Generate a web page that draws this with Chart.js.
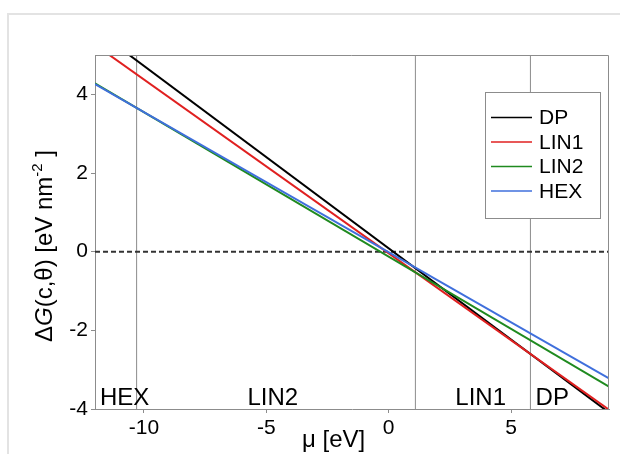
<!DOCTYPE html>
<html><head><meta charset="utf-8">
<script src="https://cdn.jsdelivr.net/npm/chart.js@4"></script>
<style>
html,body{margin:0;padding:0;background:#fff;}
#wrap{position:relative;width:620px;height:454px;overflow:hidden;}
#frame{position:absolute;left:7px;top:13px;width:640px;height:460px;border-left:2px solid #e3e3e3;border-top:2px solid #e3e3e3;}
canvas{position:absolute;left:0;top:0;}
</style></head><body>
<div id="wrap"><div id="frame"></div><canvas id="c" width="620" height="454"></canvas></div>
<script>
// chemical potential endpoints (eV)
const mu = [-12, 9];
// ΔG values at the endpoints (eV nm^-2)
const DP   = [5.65, -4.09];
const LIN1 = [5.26, -4.02];
const LIN2 = [4.28, -3.43];
const HEX  = [4.26, -3.22];
const seriesNames = ['DP', 'LIN1', 'LIN2', 'HEX'];
const seriesColors = ['#000000', '#e02020', '#1f8a1f', '#3f6fdc'];
// phase boundaries (vertical lines)
const transitions = [-10.3, 1.09, 5.79];
const yRange = [-4, 5];
const xRange = [-12, 9];
const xTicks = [-10, -5, 0, 5];
const yTicks = [-4, -2, 0, 2, 4];
// region labels and their left positions in μ
const regionLabels = ['HEX', 'LIN2', 'LIN1', 'DP'];
const regionX = [-11.8, -5.77, 2.72, 6.0];
const regionY = -3.9;

const FONT = "'Liberation Sans', Arial, sans-serif";
const seriesVals = [DP, LIN1, LIN2, HEX];

const datasets = [];
seriesVals.forEach((vals, i) => {
  datasets.push({
    label: seriesNames[i],
    data: mu.map((m, j) => ({x: m, y: vals[j]})),
    borderColor: seriesColors[i], backgroundColor: seriesColors[i],
    borderWidth: 2, pointRadius: 0, showLine: true, clip: 0,
    order: 4 - i
  });
});
datasets.push({
  label: 'zero',
  data: xRange.map(x => ({x: x, y: 0})),
  borderColor: '#333', borderWidth: 2, borderDash: [5, 3],
  pointRadius: 0, showLine: true, clip: 0, order: 9
});
transitions.forEach((t, i) => {
  datasets.push({
    label: 'tr' + i,
    data: yRange.map(y => ({x: t, y: y})),
    borderColor: '#8c8c8c', borderWidth: 1,
    pointRadius: 0, showLine: true, clip: 0, order: 10
  });
});

const decor = {
  id: 'decor',
  afterDatasetsDraw(chart) {
    const ctx = chart.ctx, a = chart.chartArea;
    const xs = chart.scales.x, ys = chart.scales.y;
    ctx.save();
    // frame top/right
    ctx.strokeStyle = '#8c8c8c'; ctx.lineWidth = 1;
    ctx.beginPath();
    ctx.moveTo(a.left, a.top + 0.5); ctx.lineTo(a.right - 0.5, a.top + 0.5); ctx.lineTo(a.right - 0.5, a.bottom);
    ctx.stroke();
    // region labels
    ctx.fillStyle = '#000'; ctx.font = '24px ' + FONT;
    ctx.textAlign = 'left'; ctx.textBaseline = 'alphabetic';
    regionLabels.forEach((t, i) => {
      ctx.fillText(t, xs.getPixelForValue(regionX[i]), ys.getPixelForValue(regionY));
    });
    // legend
    const bx = a.right - 124, by = a.top + 37, bw = 115, bh = 126;
    ctx.fillStyle = '#fff'; ctx.fillRect(bx, by, bw, bh);
    ctx.strokeStyle = '#8c8c8c'; ctx.lineWidth = 1;
    ctx.strokeRect(bx + 0.5, by + 0.5, bw, bh);
    ctx.font = '21px ' + FONT; ctx.textBaseline = 'middle';
    seriesNames.forEach((n, i) => {
      const yy = by + 25.5 + i * 24.5;
      ctx.strokeStyle = seriesColors[i]; ctx.lineWidth = 1.5;
      ctx.beginPath(); ctx.moveTo(bx + 6, yy); ctx.lineTo(bx + 47, yy); ctx.stroke();
      ctx.fillStyle = '#000'; ctx.fillText(n, bx + 54, yy + 1);
    });
    ctx.restore();
  },
  afterDraw(chart) {
    const ctx = chart.ctx;
    ctx.save();
    ctx.fillStyle = '#000';
    // x title
    ctx.font = '24px ' + FONT; ctx.textAlign = 'left'; ctx.textBaseline = 'alphabetic';
    ctx.fillText('μ [eV]', 302, 447);
    // y title
    const segs = [
      {t: 'Δ', f: '24px ' + FONT, dy: 0},
      {t: 'G', f: 'italic 24px ' + FONT, dy: 0},
      {t: '(c,θ) [eV nm', f: '24px ' + FONT, dy: 0},
      {t: '-2', f: '15px ' + FONT, dy: -10},
      {t: ' ]', f: '24px ' + FONT, dy: 0}
    ];
    let total = 0;
    segs.forEach(s => { ctx.font = s.f; s.w = ctx.measureText(s.t).width; total += s.w; });
    ctx.translate(52, 246); ctx.rotate(-Math.PI / 2);
    let x = -total / 2;
    ctx.textBaseline = 'alphabetic';
    segs.forEach(s => { ctx.font = s.f; ctx.fillText(s.t, x, s.dy); x += s.w; });
    ctx.restore();
  }
};

new Chart(document.getElementById('c'), {
  type: 'scatter',
  data: {datasets: datasets},
  options: {
    responsive: false, animation: false,
    layout: {padding: {left: 0, top: 55, right: 11, bottom: 0}},
    plugins: {legend: {display: false}, tooltip: {enabled: false}},
    scales: {
      x: {
        type: 'linear', min: xRange[0], max: xRange[1],
        afterBuildTicks: s => { s.ticks = xTicks.map(v => ({value: v})); },
        afterFit: s => { s.height = 45; },
        grid: {drawOnChartArea: false, drawTicks: true, tickLength: 4, color: '#8c8c8c'},
        border: {display: true, color: '#8c8c8c', width: 1},
        ticks: {color: '#000', font: {family: FONT, size: 21}, padding: 3, maxRotation: 0,
                callback: v => String(v)}
      },
      y: {
        type: 'linear', min: yRange[0], max: yRange[1],
        afterBuildTicks: s => { s.ticks = yTicks.map(v => ({value: v})); },
        afterFit: s => { s.width = 95; },
        grid: {drawOnChartArea: false, drawTicks: true, tickLength: 4, color: '#8c8c8c'},
        border: {display: true, color: '#8c8c8c', width: 1},
        ticks: {color: '#000', font: {family: FONT, size: 21}, padding: 3,
                callback: v => String(v)}
      }
    }
  },
  plugins: [decor]
});
</script>
</body></html>
